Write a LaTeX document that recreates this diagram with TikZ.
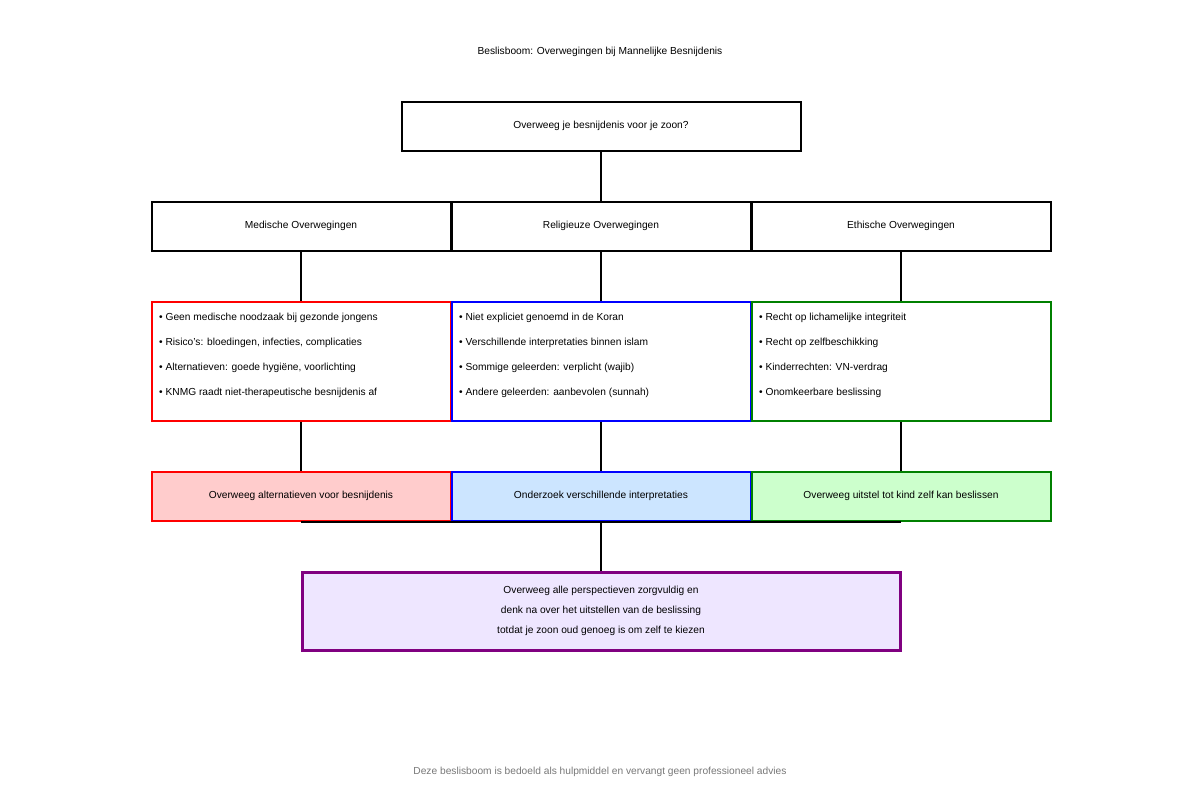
\documentclass[tikz,border=0pt]{standalone}
\usepackage{fontspec}
\setmainfont{Liberation Sans}
\begin{document}
\begin{tikzpicture}[x=1pt,y=-1pt,
  every node/.style={font=\fontsize{10.2}{12}\selectfont},
  box/.style={draw=black,line width=2pt,minimum width=299pt,minimum height=49pt,inner sep=0pt,anchor=north west},
  topbox/.style={box,minimum width=399pt},
  infobox/.style={box,minimum height=119pt},
  actbox/.style={box},
  infotext/.style={anchor=north west,inner sep=0pt,align=left,font=\fontsize{10.2}{25}\selectfont},
  conn/.style={line width=2pt,draw=black},
  redc/.style={draw={rgb,255:red,255;green,0;blue,0}},
  bluec/.style={draw={rgb,255:red,0;green,0;blue,255}},
  greenc/.style={draw={rgb,255:red,0;green,128;blue,0}}
]
\useasboundingbox (0,0) rectangle (1200,800);
\fill[white] (0,0) rectangle (1200,800);

\node (title) at (600,52) {Beslisboom: Overwegingen bij Mannelijke Besnijdenis};

\node[topbox] (q) at (400.5,100.5) {Overweeg je besnijdenis voor je zoon?};

\node[box] (med) at (150.5,200.5) {Medische Overwegingen};
\node[box] (rel) at (450.5,200.5) {Religieuze Overwegingen};
\node[box] (eth) at (750.5,200.5) {Ethische Overwegingen};

\node[infobox,redc] (medi) at (150.5,300.5) {};
\node[infobox,bluec] (reli) at (450.5,300.5) {};
\node[infobox,greenc] (ethi) at (750.5,300.5) {};

\node[infotext] (medt) at (159,313) {• Geen medische noodzaak bij gezonde jongens\\• Risico's: bloedingen, infecties, complicaties\\• Alternatieven: goede hygiëne, voorlichting\\• KNMG raadt niet-therapeutische besnijdenis af};
\node[infotext] (relt) at (459,313) {• Niet expliciet genoemd in de Koran\\• Verschillende interpretaties binnen islam\\• Sommige geleerden: verplicht (wajib)\\• Andere geleerden: aanbevolen (sunnah)};
\node[infotext] (etht) at (759,313) {• Recht op lichamelijke integriteit\\• Recht op zelfbeschikking\\• Kinderrechten: VN-verdrag\\• Onomkeerbare beslissing};

\node[actbox,redc,fill={rgb,255:red,255;green,204;blue,204}] (meda) at (150.5,470.5) {Overweeg alternatieven voor besnijdenis};
\node[actbox,bluec,fill={rgb,255:red,204;green,229;blue,255}] (rela) at (450.5,470.5) {Onderzoek verschillende interpretaties};
\node[actbox,greenc,fill={rgb,255:red,204;green,255;blue,204}] (etha) at (750.5,470.5) {Overweeg uitstel tot kind zelf kan beslissen};

\node[box,line width=3pt,minimum width=598pt,minimum height=78pt,draw={rgb,255:red,128;green,0;blue,128},fill={rgb,255:red,238;green,230;blue,255},align=center,font=\fontsize{10.2}{20}\selectfont] (fin) at (300.5,570.5) {Overweeg alle perspectieven zorgvuldig en\\denk na over het uitstellen van de beslissing\\totdat je zoon oud genoeg is om zelf te kiezen};

\node[text={rgb,255:red,120;green,120;blue,120}] (foot) at (600,772) {Deze beslisboom is bedoeld als hulpmiddel en vervangt geen professioneel advies};

\draw[conn] (q.south) -- (rel.north);
\draw[conn] (med.south) -- (medi.north);
\draw[conn] (rel.south) -- (reli.north);
\draw[conn] (eth.south) -- (ethi.north);
\draw[conn] (medi.south) -- (meda.north);
\draw[conn] (reli.south) -- (rela.north);
\draw[conn] (ethi.south) -- (etha.north);
\draw[conn] (meda.south) -- (etha.south);
\coordinate (join) at (rela.south);
\draw[conn] (join) -- (fin.north);
\end{tikzpicture}
\end{document}
